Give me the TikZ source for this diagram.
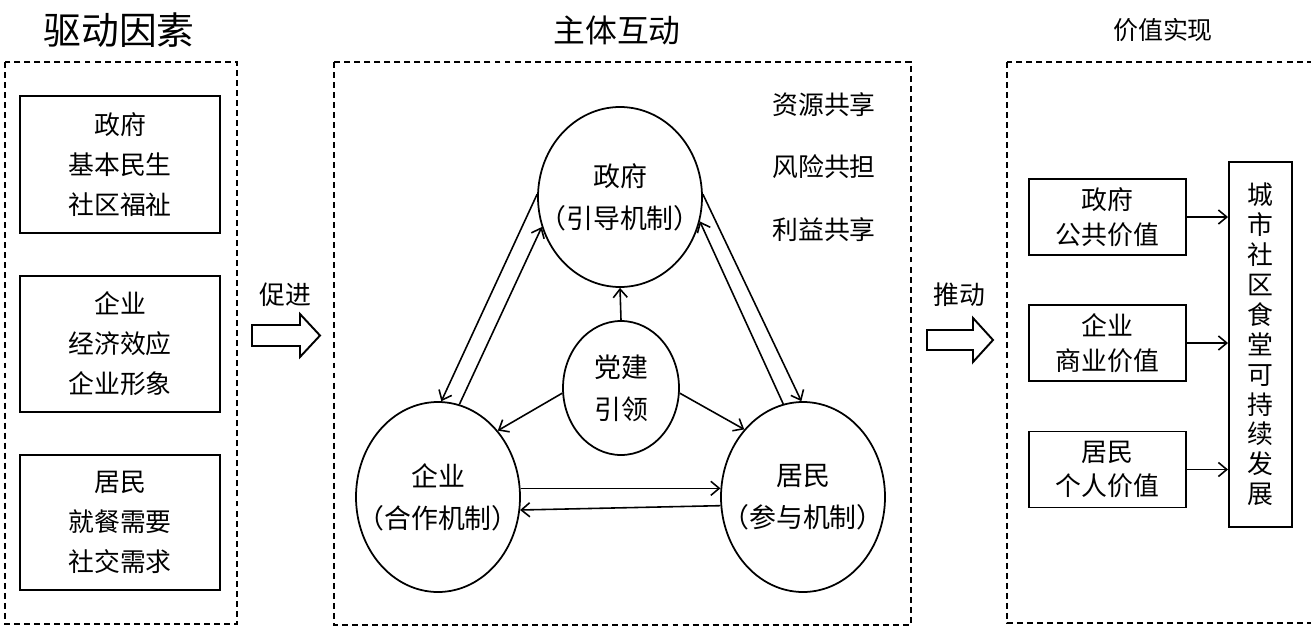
\documentclass[tikz,border=0pt]{standalone}
\usepackage{fontspec}
\setmainfont{Noto Sans CJK SC}
\usetikzlibrary{arrows.meta,shapes.geometric}
\newdimen\pxu \pxu=0.2mm
\begin{document}
\begin{tikzpicture}[x=0.2mm,y=-0.2mm,
  frame/.style={draw,dash pattern=on 3.4pt off 2.3pt,line width=1pt},
  txt/.style={font=\fontsize{14.7pt}{22.7pt}\selectfont,align=center,inner sep=0pt},
  lbox/.style={txt,draw,line width=1.1pt,minimum width=200\pxu},
  vbox/.style={draw,line width=1.1pt,minimum width=157\pxu,minimum height=76\pxu,align=center,inner sep=0pt,font=\fontsize{14.7pt}{19.8pt}\selectfont},
  ell/.style={draw,ellipse,line width=1pt,inner sep=0pt},
  elltxt/.style={align=center,inner sep=0pt,font=\fontsize{15.3pt}{23.8pt}\selectfont},
  con/.style={line width=0.9pt,-{Straight Barb[length=4.8pt,width=8pt,line width=0.9pt]}},
  blockarrow/.style={draw,line width=1.1pt,fill=white,line join=miter}
]
\useasboundingbox (0,0) rectangle (1311,630);
\clip (0,0) rectangle (1311,630);

% titles
\node[font=\fontsize{21.5pt}{21.5pt}\selectfont] (t1) at (119,30) {驱动因素};
\node[font=\fontsize{18.1pt}{18.1pt}\selectfont] (t2) at (617,30) {主体互动};
\node[font=\fontsize{14.2pt}{14.2pt}\selectfont] (t3) at (1163,30) {价值实现};

% dashed frames
\draw[frame] (5,62) rectangle (237,624);
\draw[frame] (334,62) rectangle (911,625);
\draw[frame] (1007,62) rectangle (1340,623);

% left boxes
\node[lbox,minimum height=137\pxu] (d1) at (120,164.5) {政府\\基本民生\\社区福祉};
\node[lbox,minimum height=136\pxu] (d2) at (120,344) {企业\\经济效应\\企业形象};
\node[lbox,minimum height=135\pxu] (d3) at (120,522.5) {居民\\就餐需要\\社交需求};

% block arrows
\node[txt] (p1) at (285,295) {促进};
\draw[blockarrow] (252,325) -- (300,325) -- (300,314) -- (320,335.5) -- (300,357) -- (300,346) -- (252,346) -- cycle;
\node[txt] (p2) at (959,295) {推动};
\draw[blockarrow] (927,330) -- (973,330) -- (973,318) -- (993,340) -- (973,362) -- (973,350) -- (927,350) -- cycle;

% ellipses
\node[ell,minimum width=164\pxu,minimum height=180\pxu,label={[elltxt]center:政府\\（引导机制）}] (gov) at (620,197) {};
\node[ell,minimum width=116\pxu,minimum height=134\pxu,label={[elltxt]center:党建\\引领}] (party) at (621,388) {};
\node[ell,minimum width=164\pxu,minimum height=190\pxu,label={[elltxt]center:企业\\（合作机制）}] (ent) at (438,497) {};
\node[ell,minimum width=164\pxu,minimum height=190\pxu,label={[elltxt]center:居民\\（参与机制）}] (res) at (803,497) {};

% share texts
\node[txt] (s1) at (824,105) {资源共享};
\node[txt] (s2) at (824,167) {风险共担};
\node[txt] (s3) at (824,230) {利益共享};

% connectors
\draw[con] (gov.178) -- (ent.88);
\draw[con] (ent.77) -- (gov.201);
\draw[con] (gov.2) -- (res.91);
\draw[con] (res.102) -- (gov.343);
\draw[con] (party.north) -- (gov.south);
\draw[con] (party.185) -- (ent.48);
\draw[con] (party.355) -- (res.131);
\draw[con] (ent.6) -- (res.174);
\draw[con] (res.186) -- (ent.351);

% right boxes
\node[vbox] (v1) at (1107.5,217) {政府\\公共价值};
\node[vbox] (v2) at (1107.5,343) {企业\\商业价值};
\node[vbox] (v3) at (1107.5,469.5) {居民\\个人价值};
\node[draw,line width=1.1pt,minimum width=63\pxu,minimum height=365\pxu,align=center,inner sep=0pt,font=\fontsize{14.7pt}{17pt}\selectfont] (goal) at (1260.5,344.5) {城\\市\\社\\区\\食\\堂\\可\\持\\续\\发\\展};
\draw[con] (v1.east) -- (v1.east -| goal.west);
\draw[con] (v2.east) -- (v2.east -| goal.west);
\draw[con] (v3.east) -- (v3.east -| goal.west);
\end{tikzpicture}
\end{document}
